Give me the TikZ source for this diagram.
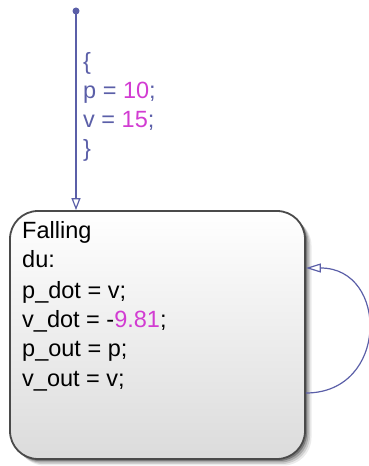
\documentclass[tikz,border=0pt]{standalone}
\usepackage{fontspec}
\setmainfont{Liberation Sans}
\usetikzlibrary{arrows.meta,positioning}
\definecolor{trans}{HTML}{5B5FA8}
\definecolor{num}{HTML}{D23CD2}
\definecolor{rim}{HTML}{4A4A4A}
\begin{document}
\begin{tikzpicture}[x=1pt, y=1pt,
    state/.style={draw=rim, line width=1.8pt, rounded corners=28pt, top color=white, bottom color=black!14, minimum width=295pt, minimum height=248pt, inner sep=0pt},
    shadowbox/.style={fill=black, rounded corners=28pt, minimum width=295pt, minimum height=248pt, inner sep=0pt},
    code/.style={anchor=base west, inner sep=0pt, font=\fontsize{23.5}{28}\selectfont},
    tlabel/.style={code, text=trans},
    transition/.style={draw=trans, line width=1.2pt, -{Triangle[open, length=12pt, width=9pt]}}
]
    \useasboundingbox (0,0) rectangle (368,466);
    % soft shadow under the state
    \foreach \d/\o in {6.5/0.08, 5/0.12, 3.5/0.18, 2/0.28}
        \node[shadowbox, opacity=\o] at (157.5+\d,131-\d) {};
    \node[state] (falling) at (157.5,131) {};
    % state actions
    \node[code] (name) at (22,227) {Falling};
    \node[code] (du) at (22,198) {du:};
    \node[code] (pdot) at (22,167) {p\_dot = v;};
    \node[code] (vdot) at (22,138) {v\_dot = -\textcolor{num}{9.81};};
    \node[code] (pout) at (22,109) {p\_out = p;};
    \node[code] (vout) at (22,79) {v\_out = v;};
    % default transition
    \coordinate (start) at (76,455);
    \fill[trans] (start) circle (3.5pt);
    \draw[transition] (start) -- (start |- falling.north);
    \node[tlabel] (open) at (83,396) {\{};
    \node[tlabel] (pinit) at (83,367) {p = \textcolor{num}{10};};
    \node[tlabel] (vinit) at (83,338) {v = \textcolor{num}{15};};
    \node[tlabel] (close) at (83,309) {\}};
    % self loop
    \draw[transition, -{Triangle[open, length=15pt, width=9pt]}] ([yshift=-58pt]falling.east) .. controls +(83,0) and +(83,0) .. ([yshift=67pt]falling.east);
\end{tikzpicture}
\end{document}
